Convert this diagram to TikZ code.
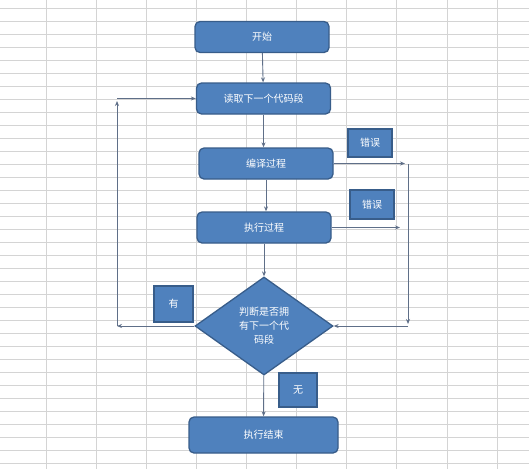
\documentclass[tikz,border=0pt]{standalone}
\usepackage{fontspec}
\newfontfamily\cjk{Noto Sans CJK SC}
\usetikzlibrary{arrows.meta, positioning, shapes.geometric}
\definecolor{boxfill}{HTML}{4F81BD}
\definecolor{boxline}{HTML}{385D8A}
\definecolor{linkcol}{HTML}{5F6F88}
\definecolor{gridcol}{HTML}{D4D4D4}

\begin{document}
\begin{tikzpicture}[
    x=1pt, y=-1pt,
    box/.style={draw=boxline, fill=boxfill, line width=1.3pt, rounded corners=5pt,
                minimum width=134pt, minimum height=31pt, inner sep=0pt,
                text=white, font=\cjk\fontsize{10}{12}\selectfont},
    tag/.style={draw=boxline, fill=boxfill, line width=1.3pt, inner sep=0pt,
                text=white, font=\cjk\fontsize{10}{12}\selectfont},
    judge/.style={diamond, draw=boxline, fill=boxfill, line width=1.3pt,
                minimum width=138pt, minimum height=98pt, inner sep=0pt,
                align=center, text=white, font=\cjk\fontsize{10}{14}\selectfont},
    arr/.style={-{Stealth[length=5pt, width=4pt]}, draw=linkcol, line width=0.9pt}
  ]
  \useasboundingbox (0,0) rectangle (529,469);
  \fill[white] (0,0) rectangle (529,469);
  % sheet grid
  \foreach \k in {0,...,9}
    \draw[gridcol, line width=0.8pt] ({46+50.12*\k},0) -- ({46+50.12*\k},469);
  \foreach \k in {0,...,35}
    \draw[gridcol, line width=0.8pt] (0,{8+13*\k}) -- (529,{8+13*\k});

  \node[box] (start)   at (262,37)    {开始};
  \node[box] (read)    at (263.5,98.5) {读取下一个代码段};
  \node[box] (compile) at (266,163.5) {编译过程};
  \node[box] (run)     at (264,227.5)  {执行过程};
  \node[judge] (check) at (264,326)    {判断是否拥\\有下一个代\\码段};
  \node[box, minimum width=149pt, minimum height=36pt] (finish) at (263.5,435) {执行结束};

  \node[tag, minimum width=44pt, minimum height=28pt] (err1) at (370,143)   {错误};
  \node[tag, minimum width=44pt, minimum height=29pt] (err2) at (372,204.5) {错误};
  \node[tag, minimum width=39pt, minimum height=36pt] (yes)  at (173.5,304) {有};
  \node[tag, minimum width=38pt, minimum height=34pt] (no)   at (298,390)   {无};

  \coordinate (e1) at (405,164);
  \coordinate (r1) at (408,164);
  \coordinate (r2) at (408,324);
  \coordinate (r3) at (408,326);
  \coordinate (e2) at (400,228);
  \coordinate (l1) at (117,326);
  \coordinate (l2) at (117,326);
  \coordinate (l3) at (117,101);
  \coordinate (l4) at (117,98.5);

  \draw[arr] (start)   -- (read);
  \draw[arr] (read.south) -- (read.south |- compile.north);
  \draw[arr] (compile.south) -- (compile.south |- run.north);
  \draw[arr] (run)     -- (check);
  \draw[arr] (check)   -- (finish);
  \draw[arr] (compile.east) -- (compile.east -| e1);
  \draw[arr] (r1) -- (r2);
  \draw[arr] (r3) -- (check.east);
  \draw[arr] (run.east) -- (run.east -| e2);
  \draw[arr] (check.west) -- (l1);
  \draw[arr] (l2) -- (l3);
  \draw[arr] (l4) -- (read.west);
\end{tikzpicture}
\end{document}
